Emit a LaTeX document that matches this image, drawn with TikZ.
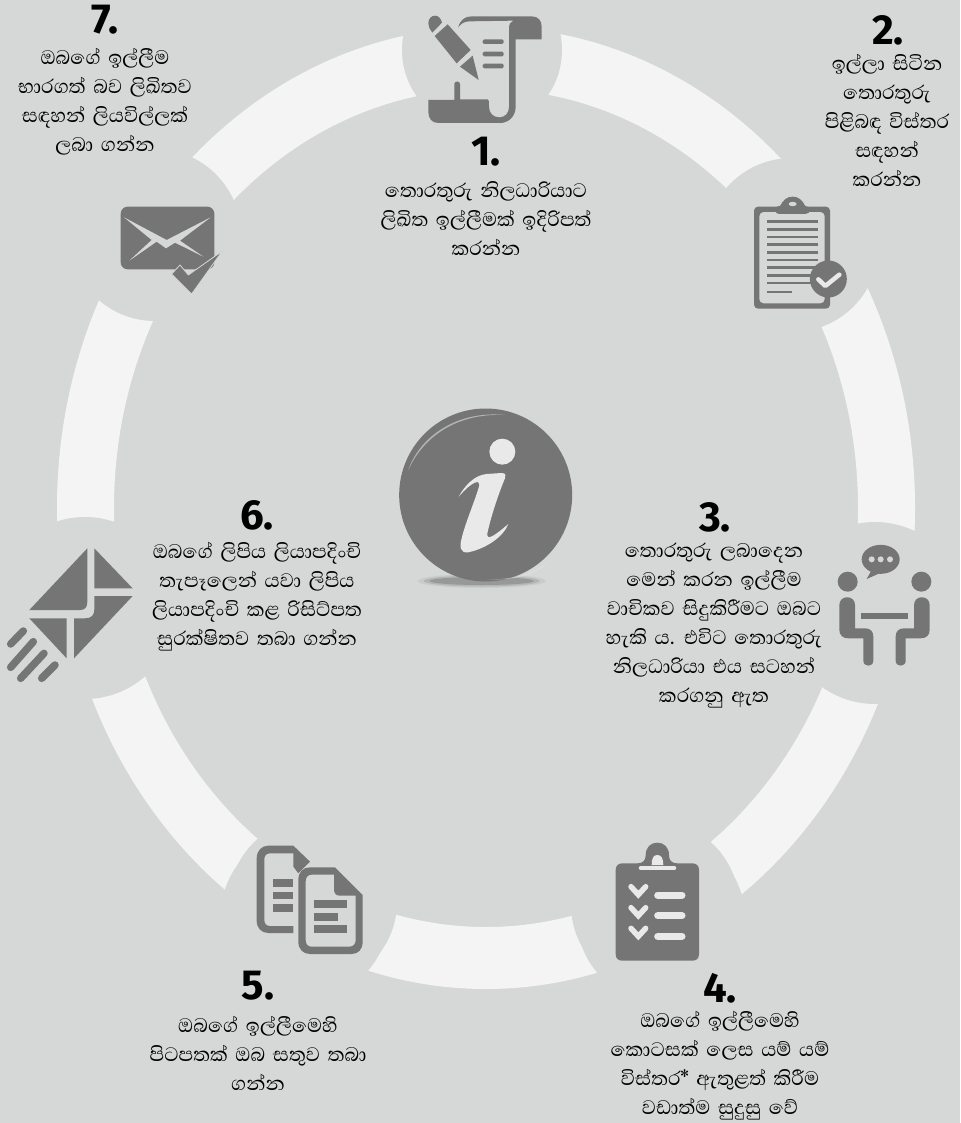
\documentclass[tikz,border=0pt]{standalone}
\usepackage{fontspec}
\newfontfamily\sinfont[Script=Sinhala,WordSpace=1.6]{Abhaya Libre}
\newfontfamily\numfont{Fira Sans}
\definecolor{bgc}{HTML}{D5D8D6}
\definecolor{ringc}{HTML}{F4F4F4}
\definecolor{iconc}{HTML}{757575}
\definecolor{glyphc}{HTML}{E8E9E8}
\tikzset{
 iconat/.style 2 args={shift={(#1pt,-#2pt)},x=0.33333pt,y=-0.33333pt},
 sinblock/.style={font=\sinfont\fontsize{25}{29}\selectfont,align=center,text=black,inner sep=0pt},
 numlabel/.style={font=\numfont\bfseries\fontsize{42}{42}\selectfont,text=black,inner sep=0pt},
 gap/.style={fill=bgc,draw=none},
 ico/.style={fill=iconc,draw=none},
}
\begin{document}
\begin{tikzpicture}[x=1pt,y=-1pt]
\useasboundingbox (0,0) rectangle (960,1123);
\fill[bgc] (0,0) rectangle (960,1123);
% ring
\fill[ringc,even odd rule] (486,508) ellipse [x radius=429pt,y radius=481pt] (486,508) ellipse [x radius=372pt,y radius=419pt];
% gaps, kept inside the ring's outer ellipse
\begin{scope}
\clip (486,508) ellipse [x radius=431pt,y radius=483pt];
\fill[gap] (482,50) circle[radius=80pt];
\fill[gap] (792,245) circle[radius=87pt];
\fill[gap] (875,613) circle[radius=91pt];
\fill[gap] (655,905) circle[radius=84pt];
\fill[gap] (661,918) circle[radius=84pt];
\fill[gap] (313,902) circle[radius=84pt];
\fill[gap] (305,915) circle[radius=84pt];
\fill[gap] (85,608) circle[radius=91pt];
\fill[gap] (155,235) circle[radius=86pt];
\end{scope}

% icon 1: scroll + pen
\begin{scope}[iconat={340}{0}]
\fill[ico] (265,70) .. controls (265,55) and (275,47) .. (285,47) .. controls (295,47) and (303,55) .. (306,68) -- (277,98) .. controls (270,90) and (265,80) .. (265,70) -- cycle;
\fill[ico] (284,108) -- (323,73) -- (392,150) -- (350,190) -- cycle;
\fill[ico] (360,200) -- (398,167) -- (416,240) -- cycle;
\fill[ico] (355,82) .. controls (360,60) and (375,49) .. (395,49) -- (575,49) .. controls (595,49) and (605,62) .. (605,80) -- (605,118) -- (527,118) -- (527,320) .. controls (527,350) and (505,369) .. (480,369) -- (295,369) .. controls (275,369) and (265,355) .. (265,335) -- (265,300) -- (343,300) -- (343,252) .. controls (343,242) and (360,242) .. (360,252) -- (360,298) -- (443,298) .. controls (447,298) and (447,305) .. (447,320) .. controls (447,340) and (460,352) .. (478,352) .. controls (495,352) and (507,340) .. (507,320) -- (507,85) .. controls (507,72) and (512,65) .. (520,62) -- (390,64) .. controls (372,64) and (362,72) .. (355,82) -- cycle;
\foreach \yy in {125,162,198} \fill[ico,rounded corners=1.5pt] (428,\yy-7) rectangle (491,\yy+7);
\end{scope}

% icon 2: clipboard
\begin{scope}[iconat={730}{0}]
\fill[ico,even odd rule,rounded corners=4pt] (72,620) rectangle (300,926) (88,636) rectangle (284,910);
\fill[ico] (150,642) .. controls (130,642) and (130,618) .. (150,618) .. controls (160,600) and (170,590) .. (188,590) .. controls (206,590) and (216,600) .. (226,618) .. controls (244,618) and (244,642) .. (226,642) -- cycle;
\fill[gap] (188,612) ellipse[x radius=4pt,y radius=2.2pt];
\foreach \yy in {665,688,711,734,757,780,803,826,849} \fill[ico] (110,\yy-4) rectangle (263,\yy+4);
\fill[ico] (110,872) rectangle (187,880);
\fill[ico] (295,837) circle[radius=18.5pt];
\draw[glyphc,line width=4.5pt,line cap=round,line join=round] (265,838) -- (286,858) -- (328,824);
\end{scope}

% icon 3: meeting
\begin{scope}[iconat={600}{490}]
\fill[ico] (842,208) ellipse[x radius=19pt,y radius=14.5pt];
\fill[ico] (815,240) -- (800,267) -- (850,245) -- cycle;
\foreach \xx in {815,842,870} \fill[gap] (\xx,208) circle[radius=3pt];
\fill[ico] (743,275) circle[radius=10pt];
\fill[ico] (964,275) circle[radius=10pt];
\fill[ico] (718,345) .. controls (718,314) and (765,314) .. (765,345) -- (765,415) -- (795,415) .. controls (812,415) and (820,425) .. (820,440) -- (820,512) .. controls (820,532) and (790,532) .. (790,512) -- (790,445) -- (745,445) .. controls (728,445) and (718,435) .. (718,420) -- cycle;
\fill[ico] (989,345) .. controls (989,314) and (942,314) .. (942,345) -- (942,415) -- (912,415) .. controls (895,415) and (887,425) .. (887,440) -- (887,512) .. controls (887,532) and (917,532) .. (917,512) -- (917,445) -- (962,445) .. controls (979,445) and (989,435) .. (989,420) -- cycle;
\fill[ico] (782,368) rectangle (925,388);
\end{scope}

% icon 4: checklist
\begin{scope}[iconat={580}{830}]
\fill[ico] (127,100) -- (172,100) .. controls (190,100) and (197,90) .. (197,75) .. controls (197,52) and (212,38) .. (232,38) .. controls (252,38) and (267,52) .. (267,75) .. controls (267,90) and (274,100) .. (292,100) -- (337,100) .. controls (350,100) and (357,108) .. (357,120) -- (357,372) .. controls (357,385) and (350,392) .. (337,392) -- (127,392) .. controls (114,392) and (107,385) .. (107,372) -- (107,120) .. controls (107,108) and (114,100) .. (127,100) -- cycle;
\draw[glyphc,line width=4.6pt,line cap=round] (183,114) -- (282,114);
\fill[glyphc] (232,75) .. controls (220,75) and (215,85) .. (215,105) -- (250,105) .. controls (250,85) and (244,75) .. (232,75) -- cycle;
\foreach \yy in {170,233,295} \draw[glyphc,line width=5.5pt,line cap=round,line join=miter] (153,\yy) -- (175,\yy+24) -- (197,\yy);
\foreach \yy in {195,257,319} \draw[glyphc,line width=7pt,line cap=round] (233,\yy) -- (306,\yy);
\end{scope}

% icon 5: documents
\begin{scope}[iconat={130}{830}]
\fill[ico,even odd rule] (380,85) .. controls (380,62) and (395,47) .. (415,47) -- (490,47) -- (540,95) -- (505,130) -- (490,110) -- (490,70) -- (420,70) .. controls (408,70) and (403,78) .. (403,88) -- (403,270) .. controls (403,280) and (408,288) .. (420,288) -- (490,288) -- (490,309) -- (415,309) .. controls (395,309) and (380,295) .. (380,272) -- cycle;
\fill[ico] (430,148) rectangle (490,170);
\fill[ico] (430,186) rectangle (490,208);
\fill[ico] (430,223) rectangle (490,245);
\fill[ico,even odd rule] (505,150) .. controls (505,125) and (520,112) .. (540,112) -- (615,112) -- (698,195) -- (698,335) .. controls (698,358) and (685,372) .. (665,372) -- (540,372) .. controls (520,372) and (505,358) .. (505,335) -- cycle
 (527,155) .. controls (527,142) and (533,134) .. (545,134) -- (612,134) -- (612,178) .. controls (612,190) and (618,197) .. (630,197) -- (677,197) -- (677,330) .. controls (677,342) and (670,350) .. (658,350) -- (545,350) .. controls (533,350) and (527,342) .. (527,330) -- cycle;
\fill[ico] (553,210) rectangle (650,234);
\fill[ico] (553,248) rectangle (625,272);
\fill[ico] (553,285) rectangle (650,309);
\end{scope}

% icon 6: flying envelope
\begin{scope}[iconat={0}{490}]
\fill[ico] (88,360) -- (262,175) -- (262,335) .. controls (262,352) and (255,360) .. (240,360) -- cycle;
\fill[ico] (283,175) -- (398,295) -- (283,295) -- cycle;
\fill[ico] (283,318) -- (398,318) -- (222,505) -- (222,385) -- (255,385) .. controls (275,385) and (283,375) .. (283,358) -- cycle;
\fill[ico] (88,385) -- (200,385) -- (200,505) -- cycle;
\draw[iconc,line width=7.5pt,line cap=round] (32,462) -- (70,423);
\draw[iconc,line width=7.5pt,line cap=round] (32,532) -- (100,455);
\draw[iconc,line width=7.5pt,line cap=round] (62,565) -- (132,490);
\draw[iconc,line width=7.5pt,line cap=round] (125,565) -- (165,525);
\end{scope}

% icon 7: mail with check
\begin{scope}[iconat={0}{0}]
\fill[ico,rounded corners=7pt] (362,620) rectangle (643,808);
\fill[gap] (372,652) -- (500,720) -- (632,652) -- (540,722) -- (610,770) -- (525,728) -- (498,745) -- (470,725) -- (388,782) -- (455,720) -- cycle;
\fill[ico,draw=bgc,line width=0.8pt,line join=round] (515,822) -- (540,795) -- (565,825) -- (667,753) -- (575,882) -- cycle;
\end{scope}

% centre info button
\begin{scope}[iconat={380}{400}]
\fill[iconc,opacity=.12] (305,543) ellipse[x radius=64pt,y radius=7pt];
\fill[iconc,opacity=.25] (305,543) ellipse[x radius=58pt,y radius=5.5pt];
\fill[iconc,opacity=.45] (305,543) ellipse[x radius=52pt,y radius=4pt];
\fill[ico] (317,285) ellipse[x radius=86.5pt,y radius=86.5pt];
\fill[glyphc,opacity=.55] (85,210) .. controls (115,120) and (220,30) .. (375,45) .. controls (220,38) and (125,120) .. (85,210) -- cycle;
\fill[glyphc,opacity=.5] (320,538) .. controls (400,540) and (470,520) .. (515,478) .. controls (470,525) and (400,542) .. (320,538) -- cycle;
\fill[glyphc] (367,155) circle[radius=13pt];
\fill[glyphc] (236,290) .. controls (255,255) and (285,225) .. (320,222) -- (365,219) .. controls (378,219) and (378,228) .. (375,235) .. controls (360,270) and (335,340) .. (322,400) .. controls (320,420) and (335,415) .. (385,372) .. controls (370,410) and (320,445) .. (265,457) .. controls (240,460) and (238,440) .. (245,415) .. controls (255,370) and (290,290) .. (298,255) .. controls (300,240) and (280,240) .. (236,290) -- cycle;
\end{scope}

% texts
\node[numlabel] (n1) at (486,152) {1.};
\node[sinblock] (t1) at (486,219) {තොරතුරු නිලධාරියාට\\ලිඛිත ඉල්ලීමක් ඉදිරිපත්\\කරන්න};
\node[numlabel] (n2) at (888,30) {2.};
\node[sinblock] (t2) at (887,120) {ඉල්ලා සිටින\\තොරතුරු\\පිළිබඳ විස්තර\\සඳහන්\\කරන්න};
\node[numlabel] (n3) at (715,517) {3.};
\node[sinblock] (t3) at (714,626) {තොරතුරු ලබාදෙන\\මෙන් කරන ඉල්ලීම\\වාචිකව සිදුකිරීමට ඔබට\\හැකි ය. එවිට තොරතුරු\\නිලධාරියා එය සටහන්\\කරගනු ඇත};
\node[numlabel] (n4) at (720,988) {4.};
\node[sinblock] (t4) at (720,1066) {ඔබගේ ඉල්ලීමෙහි\\කොටසක් ලෙස යම් යම්\\විස්තර* ඇතුළත් කිරීම\\වඩාත්ම සුදුසු වේ};
\node[numlabel] (n5) at (258,986) {5.};
\node[sinblock] (t5) at (258,1053) {ඔබගේ ඉල්ලීමෙහි\\පිටපතක් ඔබ සතුව තබා\\ගන්න};
\node[numlabel] (n6) at (257,515) {6.};
\node[sinblock] (t6) at (257,597) {ඔබගේ ලිපිය ලියාපදිංචි\\තැපෑලෙන් යවා ලිපිය\\ලියාපදිංචි කළ රිසිට්පත\\සුරක්ෂිතව තබා ගන්න};
\node[numlabel] (n7) at (105,20) {7.};
\node[sinblock] (t7) at (105,102) {ඔබගේ ඉල්ලීම\\භාරගත් බව ලිඛිතව\\සඳහන් ලියවිල්ලක්\\ලබා ගන්න};
\end{tikzpicture}
\end{document}
